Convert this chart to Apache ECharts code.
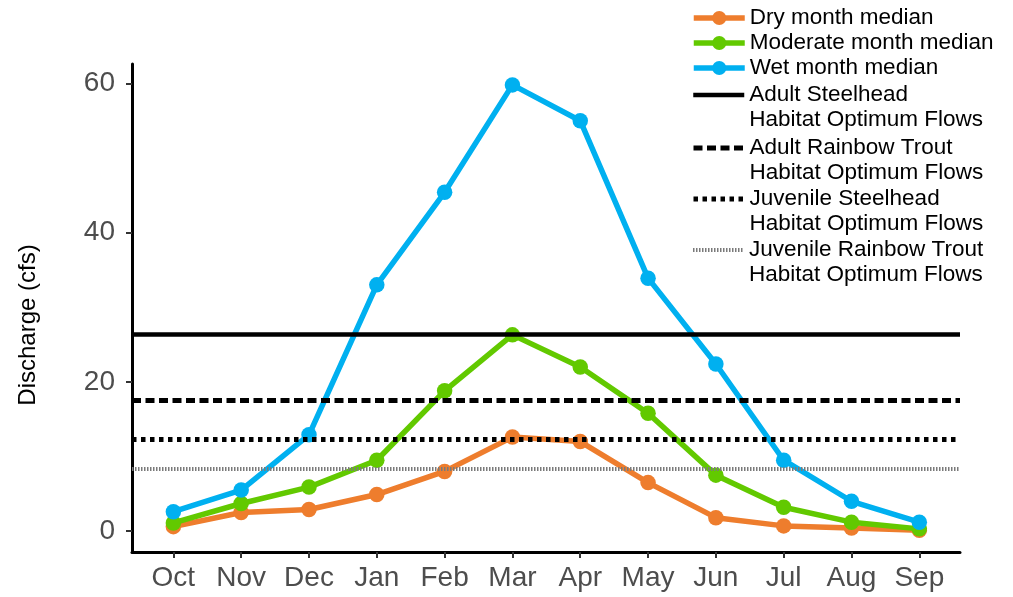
<!DOCTYPE html>
<html>
<head>
<meta charset="utf-8">
<title>Monthly median discharge</title>
<script src="https://cdn.jsdelivr.net/npm/echarts@6/dist/echarts.min.js"></script>
<style>
  html, body { margin: 0; padding: 0; background: #fff; }
  #chart { width: 1013px; height: 597px; }
</style>
</head>
<body>
<div id="chart"></div>
<script>
// Water-year months, October through September
const months = ['Oct', 'Nov', 'Dec', 'Jan', 'Feb', 'Mar', 'Apr', 'May', 'Jun', 'Jul', 'Aug', 'Sep'];

// Median monthly discharge (cfs)
const dryMedian      = [0.6, 2.5, 2.9, 4.9, 8.0, 12.6, 12.0, 6.5, 1.8, 0.7, 0.4, 0.1];
const moderateMedian = [1.1, 3.7, 5.9, 9.5, 18.8, 26.3, 22.0, 15.8, 7.5, 3.2, 1.2, 0.3];
const wetMedian      = [2.6, 5.5, 12.9, 33.0, 45.4, 59.8, 55.0, 33.9, 22.4, 9.5, 4.0, 1.2];

// Habitat optimum flows (cfs)
const adultSteelheadFlow     = 26.4;
const adultRainbowTroutFlow  = 17.6;
const juvenileSteelheadFlow  = 12.3;
const juvenileRainbowFlow    = 8.4;

const yTicks = [0, 20, 40, 60];

const FONT = "'Liberation Sans', Arial, Helvetica, sans-serif";

const toPoints = vals => vals.map((v, i) => [i, v]);

function medianSeries(name, color, values, z) {
  return {
    name: name,
    type: 'line',
    data: toPoints(values),
    color: color,
    symbol: 'circle',
    symbolSize: 15.5,
    lineStyle: { width: 5.5, color: color },
    itemStyle: { color: color },
    z: z,
    silent: true
  };
}

function flowSeries(name, value, style) {
  return {
    name: name,
    type: 'line',
    data: [],
    symbol: 'none',
    itemStyle: { color: 'rgba(0,0,0,0)' },
    lineStyle: style,
    z: 10,
    markLine: {
      silent: true,
      symbol: ['none', 'none'],
      label: { show: false },
      lineStyle: style,
      data: [{ yAxis: value }],
      animation: false
    }
  };
}

const solidStyle  = { color: '#000', width: 4.5, type: 'solid' };
const dashedStyle = { color: '#000', width: 5, type: [9, 4.5] };
const dottedStyle = { color: '#000', width: 5, type: [4.5, 4.5] };
const hatchStyle  = { color: '#7a7a7a', width: 4, type: [1.5, 1.5] };

const NAMES = {
  dry: 'Dry month median',
  mod: 'Moderate month median',
  wet: 'Wet month median',
  as: 'Adult Steelhead Habitat Optimum Flows',
  art: 'Adult Rainbow Trout Habitat Optimum Flows',
  js: 'Juvenile Steelhead Habitat Optimum Flows',
  jrt: 'Juvenile Rainbow Trout Habitat Optimum Flows'
};

const legendText = { fontFamily: FONT, fontSize: 22.5, lineHeight: 25, color: '#000' };
const LEGEND_LEFT = 691;

// Two-line entries: an empty first line keeps the species name level with the key
function flowLegend(name, top, style) {
  return {
    data: [name],
    left: LEGEND_LEFT,
    top: top,
    padding: 0,
    itemWidth: 51,
    itemHeight: 17.5,
    selectedMode: false,
    lineStyle: { width: style.width },
    formatter: n => '\n' + n.replace(' Habitat', '\nHabitat'),
    textStyle: legendText
  };
}

const chart = echarts.init(document.getElementById('chart'), null, { renderer: 'canvas' });

chart.setOption({
  animation: false,
  backgroundColor: '#fff',
  grid: { left: 132, right: 53, top: 64, bottom: 45 },
  xAxis: {
    type: 'value',
    min: -0.61,
    max: 11.6,
    axisLine: { onZero: false, lineStyle: { color: '#000', width: 3 } },
    axisTick: {
      customValues: months.map((m, i) => i),
      length: 6,
      lineStyle: { color: '#333', width: 2 }
    },
    axisLabel: {
      customValues: months.map((m, i) => i),
      formatter: v => months[Math.round(v)],
      fontFamily: FONT,
      fontSize: 28,
      color: '#4d4d4d',
      margin: 12
    },
    splitLine: { show: false }
  },
  yAxis: {
    type: 'value',
    min: -2.8,
    max: 62.6,
    axisLine: { show: true, onZero: false, lineStyle: { color: '#000', width: 3 } },
    axisTick: {
      show: true,
      customValues: yTicks,
      length: 6,
      lineStyle: { color: '#333', width: 2 }
    },
    axisLabel: {
      customValues: yTicks,
      fontFamily: FONT,
      fontSize: 28,
      color: '#4d4d4d',
      margin: 17
    },
    splitLine: { show: false }
  },
  legend: [
    {
      data: [NAMES.dry, NAMES.mod, NAMES.wet],
      orient: 'vertical',
      left: LEGEND_LEFT,
      top: 5.5,
      padding: 0,
      itemGap: 0,
      itemWidth: 51,
      itemHeight: 17.5,
      selectedMode: false,
      lineStyle: { width: 5.5 },
      textStyle: legendText
    },
    flowLegend(NAMES.as, 57.5, solidStyle),
    flowLegend(NAMES.art, 110.5, dashedStyle),
    flowLegend(NAMES.js, 161.5, dottedStyle),
    flowLegend(NAMES.jrt, 212.5, hatchStyle)
  ],
  graphic: [
    {
      type: 'text',
      x: 28,
      y: 325,
      rotation: Math.PI / 2,
      style: {
        text: 'Discharge (cfs)',
        fontFamily: FONT,
        fontSize: 24,
        fill: '#000',
        align: 'center',
        verticalAlign: 'middle'
      }
    }
  ],
  series: [
    medianSeries(NAMES.dry, '#EE7D2D', dryMedian, 2),
    medianSeries(NAMES.mod, '#62C900', moderateMedian, 3),
    medianSeries(NAMES.wet, '#00B0F0', wetMedian, 4),
    flowSeries(NAMES.as, adultSteelheadFlow, solidStyle),
    flowSeries(NAMES.art, adultRainbowTroutFlow, dashedStyle),
    flowSeries(NAMES.js, juvenileSteelheadFlow, dottedStyle),
    flowSeries(NAMES.jrt, juvenileRainbowFlow, hatchStyle)
  ]
});
</script>
</body>
</html>
